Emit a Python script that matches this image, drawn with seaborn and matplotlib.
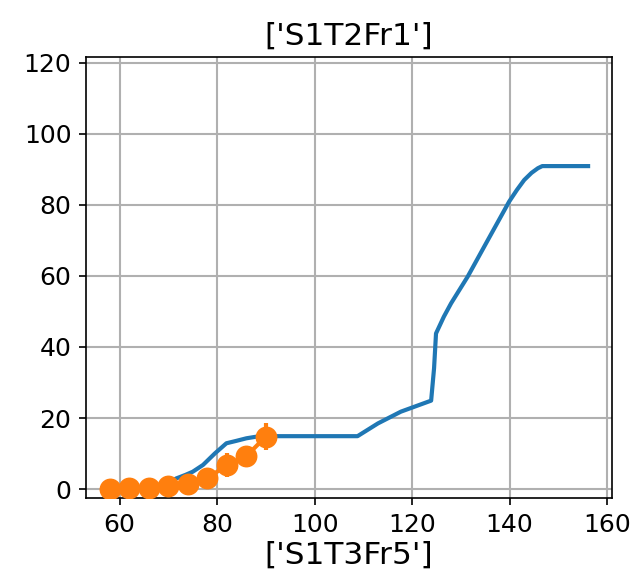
import matplotlib
matplotlib.use("Agg")
import matplotlib.pyplot as plt
import seaborn as sns
import pandas as pd

# Blue curve (continuous trace)
line_x = [58, 62, 66, 70, 71.6, 73.5, 75.0, 77.1, 79.5, 81.9, 84.0, 86.0, 88.7, 108.8,
          113.0, 117.7, 123.9, 124.5, 124.9, 126.5, 128.0, 131.4, 135.5, 139.9,
          141.5, 143.0, 144.5, 145.8, 146.7, 156.1]
line_y = [0.0, 0.2, 0.6, 1.8, 3.0, 4.0, 4.9, 6.8, 10.0, 12.9, 13.6, 14.3, 14.9, 14.9,
          18.5, 21.8, 24.9, 34.0, 43.8, 48.5, 52.3, 59.8, 70.0, 80.9,
          84.2, 87.0, 89.0, 90.3, 90.9, 90.9]

# Orange measured points with error bars
pt_x = [58, 62, 66, 70, 74, 78, 82, 86, 90]
pt_y = [0.1, 0.2, 0.4, 0.8, 1.4, 3.0, 6.8, 9.3, 14.8]
pt_err = [0.0, 0.0, 0.1, 0.3, 0.5, 1.0, 3.3, 2.0, 3.7]

title_text = "['S1T2Fr1']"
xlabel_text = "['S1T3Fr5']"

fig, ax = plt.subplots(figsize=(637/150, 576/150), dpi=150)
fig.subplots_adjust(left=86/637, right=612/637, top=1-57/576, bottom=1-498/576)

df_line = pd.DataFrame({"x": line_x, "y": line_y})
sns.lineplot(data=df_line, x="x", y="y", ax=ax, color="#1f77b4", linewidth=2, zorder=2)

ax.errorbar(pt_x, pt_y, yerr=pt_err, fmt="-o", color="#ff7f0e", markersize=9.5,
            linewidth=2, elinewidth=2, zorder=3)

ax.set_ylim(-2.5, 121.6)
ax.set_yticks([0, 20, 40, 60, 80, 100, 120])
ax.set_xticks([60, 80, 100, 120, 140, 160])
ax.grid(True, color="#b0b0b0", linewidth=1.0)
ax.set_axisbelow(True)
ax.tick_params(labelsize=12)
ax.set_title(title_text, fontsize=15)
ax.set_xlabel(xlabel_text, fontsize=15, labelpad=2)
ax.set_ylabel("")

fig.savefig("out.png", dpi=150)
